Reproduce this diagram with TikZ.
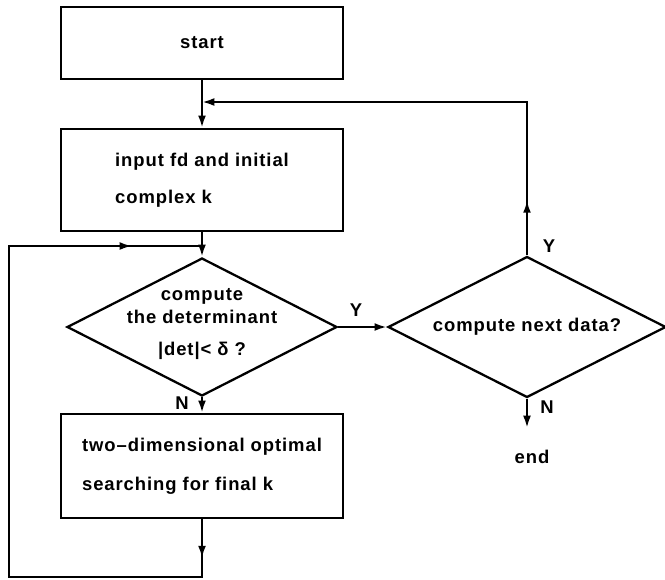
\documentclass[tikz,border=0pt]{standalone}
\usepackage{fontspec}
\setmainfont{Liberation Sans}[LetterSpace=5]
\usetikzlibrary{shapes.geometric,arrows.meta,decorations.markings}

\begin{document}
\begin{tikzpicture}[x=0.02cm,y=-0.02cm,
    line width=1.3pt,
    every node/.style={font=\fontsize{10.5}{13}\selectfont\bfseries},
    box/.style={draw,minimum width=5.64cm,align=left,inner sep=0pt},
    test/.style={draw,diamond,aspect=2,inner sep=0pt},
    tip/.style={-{Latex[length=7pt,width=4.5pt]}},
    midarrow/.style={postaction={decorate,decoration={markings,
        mark=at position #1 with {\arrow{Latex[length=7pt,width=4.5pt]}}}}}]
\useasboundingbox (0,0) rectangle (665,579);
\node[box,minimum height=1.44cm] (start) at (202,43) {start};
\node[box,minimum height=2.04cm] (input) at (202,180) {input fd and initial\\[8pt]complex k};
\node[test,minimum width=5.4cm,minimum height=2.76cm] (det) at (202,327) {};
\node[align=center] (dettext) at (202,324) {compute\\the determinant\\[5pt]|det|< δ ?};
\node[test,minimum width=5.56cm,minimum height=2.82cm] (next) at (527,327) {compute next data?};
\node[box,minimum height=2.08cm] (search) at (202,466) {two–dimensional optimal\\[9pt]searching for final k};
\node (end) at (532,457) {end};
\node (yes1) at (356,310) {Y};
\node (yes2) at (549,246) {Y};
\node (no1) at (182,403) {N};
\node (no2) at (547,407) {N};
\coordinate (stop) at (527,428);
\coordinate (back) at (527,102);
\coordinate (join) at (202,102);
\coordinate (loopa) at (202,577);
\coordinate (loopb) at (9,577);
\coordinate (loopc) at (9,246);
\coordinate (loopd) at (202,246);
\draw[tip] (start) -- (input);
\draw[tip] (input) -- (det);
\draw[tip] (det) -- (next);
\draw[tip] (det) -- (search);
\draw[tip] (next) -- (stop);
\draw[tip,midarrow=1.1cm] (next) -- (back) -- (join);
\draw[midarrow=0.78cm,midarrow=14.1cm] (search) -- (loopa) -- (loopb) -- (loopc) -- (loopd);
\end{tikzpicture}
\end{document}
